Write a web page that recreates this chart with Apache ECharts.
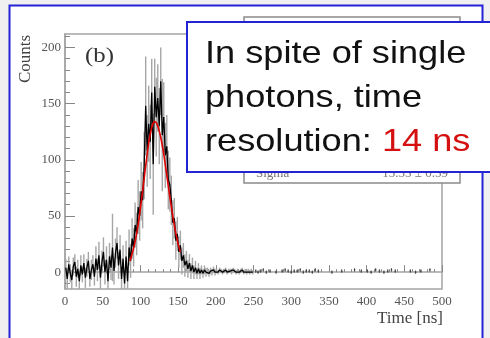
<!DOCTYPE html>
<html>
<head>
<meta charset="utf-8">
<script src="https://cdn.jsdelivr.net/npm/echarts@6/dist/echarts.min.js"></script>
<style>
  html, body { margin: 0; padding: 0; background: #f0f0f0; }
  #chart { width: 490px; height: 338px; }
</style>
</head>
<body>
<div id="chart"></div>
<script>
// Time histogram, 2 ns bins from 0 to 250 ns (background subtracted counts)
const binWidth = 2;
const counts = [
  // 0-40 ns
  4, -6, 7, -1, -7, 5, 9, -4, 3, -8, 6, -2, 8, -5, 4, 10, -6, 2, 7, -4,
  // 40-80 ns
  12, 2, 15, -5, 9, 18, 0, 11, -8, 14, 4, 22, 1, 17, 26, 6, 20, -6, 12, -10,
  // 80-100 ns
  14, -8, 22, 10, 30, 22, 42, 34, 58, 50,
  // 100-140 ns
  72, 64, 95, 148, 108, 132, 116, 160, 96, 165, 138, 155, 130, 170, 122, 138, 104, 112, 82, 78,
  // 140-160 ns
  64, 44, 48, 28, 34, 18, 24, 10, 15, 6,
  // 160-200 ns
  10, 3, 8, 1, 6, 0, 4, -1, 3, -1, 2, -1, 2, 0, 1, -1, 1, 0, 2, 0,
  // 200-250 ns
  1, 0, 2, 1, 0, 1, 2, 0, 1, 1, 0, 2, 1, 0, 1, 0, 1, 2, 0, 1, 0, 1, 0, 1, 0
];
const errors = [
  8, 9, 7, 8, 9, 8, 7, 9, 8, 8, 9, 7, 8, 9, 8, 8, 7, 9, 8, 8,
  11, 10, 12, 11, 10, 13, 11, 12, 10, 12, 11, 30, 12, 13, 14, 12, 13, 11, 12, 12,
  14, 13, 16, 15, 18, 17, 20, 19, 24, 22,
  26, 25, 30, 44, 32, 34, 33, 30, 45, 25, 35, 30, 34, 30, 50, 31, 29, 28, 26, 24,
  22, 20, 18, 17, 15, 14, 13, 12, 11, 10,
  9, 8, 8, 7, 7, 6, 6, 5, 5, 5, 4, 4, 4, 4, 3, 3, 3, 3, 3, 3,
  2, 2, 2, 2, 2, 2, 2, 2, 2, 2, 2, 2, 2, 2, 2, 2, 2, 2, 2, 2, 2, 2, 2, 2, 2
];

// Sparse filled bins beyond 250 ns
const tailTimes = [253, 256, 259, 263, 267, 272, 280, 288, 292, 296, 300, 304, 308, 312, 316,
  320, 324, 328, 332, 336, 354, 367, 384, 393, 401, 406, 412, 417, 423, 428, 433, 438, 458, 465, 472, 484];
const tailCounts = [1, 0, 1, 2, 0, 1, 0, 1, 2, 1, 0, 1, 1, 2, 0, 1, 1, 0, 2, 1,
  0, 1, 2, 1, 1, 0, 2, 1, 0, 1, 2, 1, 1, 0, 1, 2];

// Gaussian fit curve
const fitTimes = [86, 88, 92, 96, 100, 104, 108, 112, 116, 119, 122, 126, 130, 134, 138, 142, 146, 150, 153];
const fitCounts = [10, 14, 24, 38, 57, 78, 100, 119, 131, 134, 132, 123, 109, 91, 72, 54, 38, 25, 18];

// Axis ticks
const yMajorTicks = [0, 50, 100, 150, 200];
const yMinorTicks = [-10, 10, 20, 30, 40, 60, 70, 80, 90, 110, 120, 130, 140, 160, 170, 180, 190, 210];

const histData = counts.map((v, i) => [binWidth * i + binWidth / 2, v]);
const errData = counts.map((v, i) => [binWidth * i + binWidth / 2, v, errors[i]]);
const tailData = tailTimes.map((t, i) => [t, tailCounts[i]]);
const fitData = fitTimes.map((t, i) => [t, fitCounts[i]]);

const serif = "'Liberation Serif', 'DejaVu Serif', serif";
const sans = "'Liberation Sans', Arial, sans-serif";
const frameGray = '#a4a4a4';
const blue = '#2323d6';

const chart = echarts.init(document.getElementById('chart'));
chart.setOption({
  animation: false,
  backgroundColor: '#ffffff',
  grid: {
    left: 65, right: 48, top: 34, bottom: 49,
    show: true, borderColor: frameGray, borderWidth: 1.5, backgroundColor: 'transparent'
  },
  xAxis: {
    type: 'value', min: 0, max: 500, interval: 50,
    axisLine: { lineStyle: { color: frameGray, width: 1.5 } },
    axisTick: { inside: true, length: 7, lineStyle: { color: '#888' } },
    minorTick: { show: true, splitNumber: 5, length: 3, lineStyle: { color: '#888' } },
    splitLine: { show: false },
    axisLabel: { color: '#555', fontFamily: serif, fontSize: 13, margin: 6 }
  },
  yAxis: [{
    type: 'value', min: -15, max: 212,
    axisLine: { show: true, lineStyle: { color: frameGray, width: 1.5 } },
    axisTick: { show: true, inside: true, length: 10, customValues: yMajorTicks, lineStyle: { color: '#888' } },
    axisLabel: { color: '#555', fontFamily: serif, fontSize: 13, margin: 4, customValues: yMajorTicks },
    splitLine: { show: false }
  }, {
    type: 'value', min: -15, max: 212, position: 'left',
    axisLine: { show: false },
    axisTick: { show: true, inside: true, length: 5, customValues: yMinorTicks, lineStyle: { color: '#888' } },
    axisLabel: { show: false },
    splitLine: { show: false }
  }],
  series: [{
    name: 'errors', type: 'custom', clip: true, z: 1,
    encode: { x: 0, y: 1 },
    data: errData,
    renderItem(params, api) {
      const t = api.value(0), v = api.value(1), e = api.value(2);
      const a = api.coord([t, v + e]);
      const b = api.coord([t, v - e]);
      return {
        type: 'line',
        shape: { x1: a[0], y1: a[1], x2: b[0], y2: b[1] },
        style: { stroke: '#a6a6a6', lineWidth: 1.4 }
      };
    }
  }, {
    name: 'counts', type: 'line', z: 3,
    data: histData, showSymbol: false,
    lineStyle: { color: '#000', width: 1.3 }
  }, {
    name: 'tail', type: 'custom', clip: true, z: 3,
    encode: { x: 0, y: 1 },
    data: tailData,
    renderItem(params, api) {
      const t = api.value(0), v = api.value(1);
      const l = api.coord([t - 1, v]), r = api.coord([t + 1, v]);
      const up = api.coord([t, v + 1.5]), dn = api.coord([t, v - 1.5]);
      return {
        type: 'group',
        children: [
          { type: 'line', shape: { x1: l[0], y1: l[1], x2: r[0], y2: r[1] }, style: { stroke: '#222', lineWidth: 1 } },
          { type: 'line', shape: { x1: up[0], y1: up[1], x2: dn[0], y2: dn[1] }, style: { stroke: '#444', lineWidth: 1 } }
        ]
      };
    }
  }, {
    name: 'fit', type: 'line', z: 5,
    data: fitData, showSymbol: false, smooth: 0.3,
    lineStyle: { color: '#e00000', width: 1.6 }
  }],
  graphic: [
    // page margins and outer frame
    { type: 'rect', shape: { x: 0, y: 0, width: 490, height: 5 }, style: { fill: '#f0f0f0' }, z: 40 },
    { type: 'rect', shape: { x: 0, y: 0, width: 9, height: 338 }, style: { fill: '#f0f0f0' }, z: 40 },
    { type: 'rect', shape: { x: 483, y: 0, width: 7, height: 338 }, style: { fill: '#f0f0f0' }, z: 40 },
    { type: 'rect', shape: { x: 9.5, y: 5.5, width: 473, height: 400 }, style: { fill: 'none', stroke: blue, lineWidth: 2 }, z: 41 },
    // panel label and axis titles
    { type: 'text', x: 85, y: 56, scaleX: 1.13, z: 42,
      style: { text: '(b)', fontFamily: serif, fontSize: 22, fill: '#333', verticalAlign: 'middle' } },
    { type: 'text', x: 26, y: 59, rotation: Math.PI / 2, z: 42,
      style: { text: 'Counts', fontFamily: serif, fontSize: 17, fill: '#444', align: 'center', verticalAlign: 'middle' } },
    { type: 'text', x: 443, y: 319, z: 42,
      style: { text: 'Time [ns]', fontFamily: serif, fontSize: 17, fill: '#444', align: 'right', verticalAlign: 'middle' } },
    // fit statistics box
    { type: 'rect', shape: { x: 244, y: 17, width: 216, height: 166 }, style: { fill: '#fff', stroke: '#8a8a8a', lineWidth: 1.5 }, z: 50 },
    { type: 'text', x: 256, y: 180, z: 51,
      style: { text: 'Sigma', fontFamily: serif, fontSize: 13, fill: '#777', verticalAlign: 'bottom' } },
    { type: 'text', x: 448, y: 180, z: 51,
      style: { text: '15.55 ± 0.59', fontFamily: serif, fontSize: 13, fill: '#777', align: 'right', verticalAlign: 'bottom' } },
    // annotation box
    { type: 'rect', shape: { x: 187, y: 22, width: 320, height: 150 }, style: { fill: '#fff', stroke: blue, lineWidth: 2 }, z: 60 },
    { type: 'text', x: 205, y: 32, scaleX: 1.13, z: 61,
      style: {
        text: 'In spite of single\nphotons, time\nresolution: {r|14 ns}',
        fontFamily: sans, fontSize: 32, lineHeight: 44, fill: '#111',
        rich: { r: { fill: '#d41010', fontFamily: sans, fontSize: 32, lineHeight: 44 } }
      } }
  ]
});
</script>
</body>
</html>
